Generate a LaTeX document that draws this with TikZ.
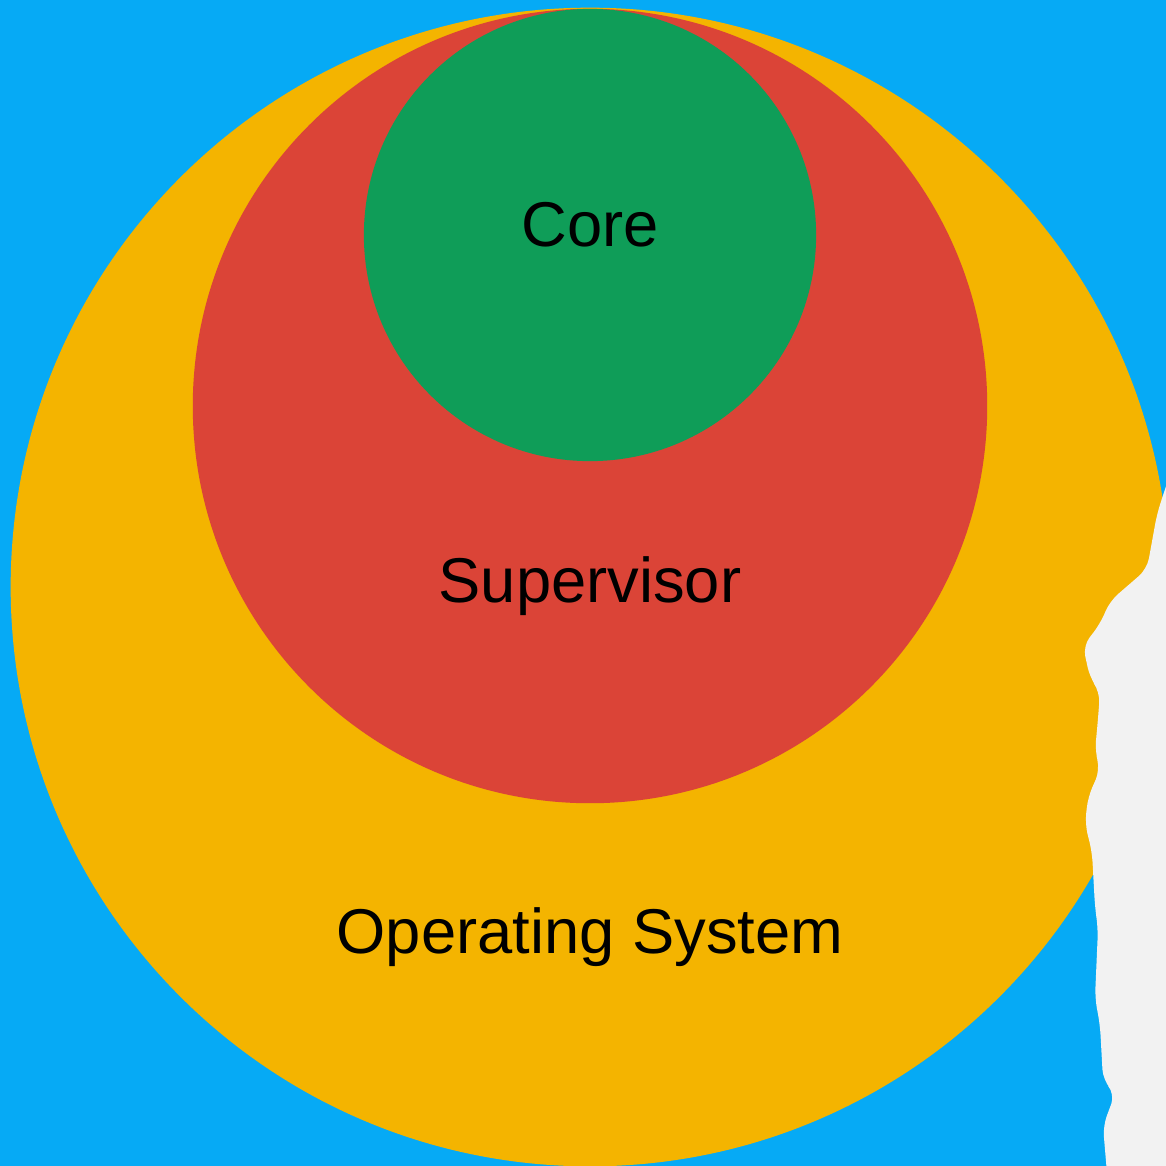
\documentclass[tikz,border=0pt]{standalone}
\usepackage{fontspec}
\setmainfont{Liberation Sans}
\usetikzlibrary{positioning}

\definecolor{skyblue}{HTML}{06AAF5}
\definecolor{osyellow}{HTML}{F4B400}
\definecolor{supred}{HTML}{DB4437}
\definecolor{coregreen}{HTML}{0F9D58}
\definecolor{paper}{HTML}{F2F2F2}

\begin{document}
\begin{tikzpicture}[
    x=0.01cm, y=-0.01cm,
    ring/.style={circle, inner sep=0pt, draw=none},
    ringlabel/.style={font=\fontsize{18}{21}\selectfont, text=black}
]

% --- Frame ---
\useasboundingbox (0,0) rectangle (1166,1166);
\clip (0,0) rectangle (1166,1166);
\fill[skyblue] (0,0) rectangle (1166,1166);

% --- Rings ---
\node[ring, fill=osyellow, minimum size=11.58cm] (os) at (590,587) {};
\node[ring, fill=supred, minimum size=7.94cm] (supervisor) at (590,406) {};
\node[ring, fill=coregreen, minimum size=4.52cm] (core) at (590,235) {};

% --- Labels ---
\node[ringlabel] (corelabel) at (590,225) {Core};
\node[ringlabel] (suplabel) at (590,586) {Supervisor};
\node[ringlabel] (oslabel) at (590,937) {Operating System};

% --- Torn paper edge ---
\fill[paper, rounded corners=3pt] (1175,460) -- (1165,489) -- (1157,514) -- (1147,569) -- (1110,601)
  -- (1100,624) -- (1083,646) -- (1090,678) -- (1100,692) -- (1098,719)
  -- (1095,751) -- (1100,770) -- (1088,797) -- (1085,824) -- (1092,852)
  -- (1095,907) -- (1098,929) -- (1095,998) -- (1100,1025) -- (1103,1080)
  -- (1115,1094) -- (1103,1126) -- (1108,1185) -- (1185,1185) -- (1185,460) -- cycle;

\end{tikzpicture}
\end{document}
